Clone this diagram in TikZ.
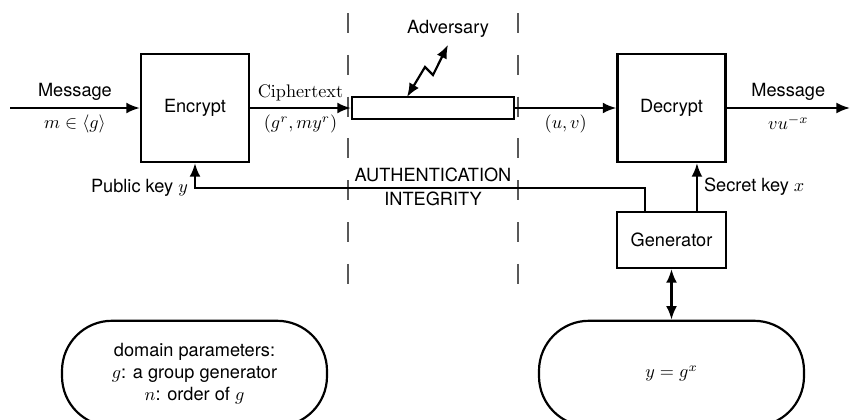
\documentclass[tikz,border=0pt]{standalone}
\usepackage[no-math]{fontspec}
\setmainfont{TeX Gyre Heros}
\usepackage{amsmath}
\usetikzlibrary{arrows.meta, positioning}

\begin{document}
\begin{tikzpicture}[x=0.55pt,y=-0.55pt,>={Latex[length=7.5pt,width=6pt]},line width=1.2pt,
        block/.style={draw,minimum width=59.4pt,minimum height=59.4pt,inner sep=0pt},
        store/.style={draw,rounded corners=27.5pt,minimum width=145.75pt,minimum height=58pt,align=center},
        border/.style={line width=0.6pt,black!65,dash pattern=on 11pt off 12pt}]
        \useasboundingbox (0,0) rectangle (851,419);
        % blocks
        \node[block](enc) at (195,108) {Encrypt};
        \node[block](dec) at (671.5,108) {Decrypt};
        \node[draw,minimum width=60pt,minimum height=30.8pt](gen) at (671.5,240) {Generator};
        \node[draw,minimum width=89.1pt,minimum height=12.1pt,inner sep=0pt](chan) at (433,108) {};
        \node(adv) at (448,29) {Adversary};
        \node[store](dom) at (194.5,373.5) {domain parameters:\\ $g$: a group generator\\ $n$: order of $g$};
        \node[store](key) at (671.5,373.5) {$y=g^x$};
        \node[align=center](auth) at (433,187) {AUTHENTICATION\\[1.5pt]INTEGRITY};
        \coordinate(src) at (10,108);
        \coordinate(dst) at (850,108);
        \coordinate(hit) at (407,97);
        \coordinate(pk) at (645,188);
        % channel boundary
        \draw[border] (348,13) -- (348,290);
        \draw[border] (518,13) -- (518,290);
        % data flow
        \draw[->] (src) -- node[above]{Message} node[below]{$m\in\langle g\rangle$} (enc);
        \draw[->] (enc) -- node[above]{$\mathrm{Ciphertext}$} node[below]{$(g^r,my^r)$} (chan);
        \draw[->] (chan) -- node[below]{$(u,v)$} (dec);
        \draw[->] (dec) -- node[above]{Message} node[below]{$vu^{-x}$} (dst);
        \draw[<->] (hit) -- ++(18,-30) -- ++(8,8) -- (adv.south);
        % keys
        \draw[->] (gen.north -| pk) -- (pk) -| node[pos=0.5,left]{Public key $y$} (enc);
        \draw[->] ([xshift=14pt]gen.north) -- node[right]{Secret key $x$} ([xshift=14pt]dec.south);
        \draw[<->] (gen) -- (key);
\end{tikzpicture}
\end{document}
